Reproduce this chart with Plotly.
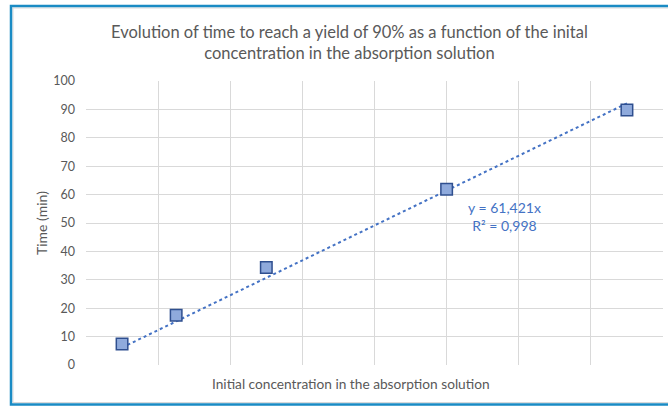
import plotly.graph_objects as go

# Data
concentration = [0.1, 0.25, 0.5, 1.0, 1.5]
time_min = [7.4, 17.5, 34.3, 61.9, 89.8]
trend_slope = 61.421
r_squared = "0,998"
title_text = "Evolution of time to reach a yield of 90% as a function of the inital<br>concentration in the absorption solution"
x_title = "Initial concentration in the absorption solution"
y_title = "Time (min)"

W, H = 668, 406
L, R, T, B = 86, 5, 81, 41
pw, ph = W - L - R, H - T - B

def px_x(p):
    return (p - L) / pw

def px_y(p):
    return (H - B - p) / ph

FONT = "Lato"
GRAY = "#595959"

trend_x = [min(concentration), max(concentration)]
trend_y = [trend_slope * v for v in trend_x]

fig = go.Figure()
fig.add_trace(go.Scatter(x=trend_x, y=trend_y, mode="lines",
                         line=dict(color="#4472C4", width=2, dash="dot"),
                         showlegend=False, hoverinfo="skip"))
fig.add_trace(go.Scatter(x=concentration, y=time_min, mode="markers",
                         marker=dict(symbol="square", size=11.5, color="#8FAADC",
                                     line=dict(color="#2F4F8F", width=1.5)),
                         showlegend=False))

fig.update_layout(
    width=W, height=H,
    margin=dict(l=L, r=R, t=T, b=B),
    paper_bgcolor="white", plot_bgcolor="white",
    font=dict(family=FONT, color=GRAY, size=12),
    xaxis=dict(range=[0, 1.6], dtick=0.2, tick0=0, showticklabels=False,
               showgrid=True, gridcolor="#D9D9D9", gridwidth=1,
               zeroline=False, showline=False, fixedrange=True),
    yaxis=dict(range=[0, 100], dtick=10, tick0=0,
               showgrid=True, gridcolor="#D9D9D9", gridwidth=1,
               zeroline=False, showline=False,
               tickfont=dict(size=12.5, color=GRAY, family=FONT),
               ticklabelstandoff=10),
    annotations=[
        dict(text=title_text, x=px_x(349), y=px_y(42), xref="paper", yref="paper",
             showarrow=False, font=dict(size=16.5, color=GRAY, family=FONT),
             xanchor="center", yanchor="middle", align="center"),
        dict(text=x_title, x=px_x(350.5), y=px_y(383), xref="paper", yref="paper",
             showarrow=False, font=dict(size=13.7, color=GRAY, family=FONT),
             xanchor="center", yanchor="middle"),
        dict(text=y_title, x=px_x(41), y=px_y(223), xref="paper", yref="paper",
             showarrow=False, textangle=-90, font=dict(size=14, color=GRAY, family=FONT),
             xanchor="center", yanchor="middle"),
        dict(text=f"y = {str(trend_slope).replace('.', ',')}x<br>R² = {r_squared}",
             x=px_x(504), y=px_y(216), xref="paper", yref="paper",
             showarrow=False, font=dict(size=14, color="#4472C4", family=FONT),
             xanchor="center", yanchor="middle", align="center"),
    ],
    shapes=[
        dict(type="rect", xref="paper", yref="paper",
             x0=px_x(13), x1=px_x(680), y0=px_y(402.5), y1=px_y(8),
             line=dict(color="#D9D9D9", width=1), fillcolor="rgba(0,0,0,0)", layer="below"),
        dict(type="rect", xref="paper", yref="paper",
             x0=px_x(11), x1=px_x(682), y0=px_y(404.5), y1=px_y(6),
             line=dict(color="#1A8BC4", width=2.5), fillcolor="rgba(0,0,0,0)"),
    ],
)

fig.write_html("out.html", config={"displayModeBar": False},
               post_script="document.body.style.margin='0px';document.body.style.padding='0px';")
